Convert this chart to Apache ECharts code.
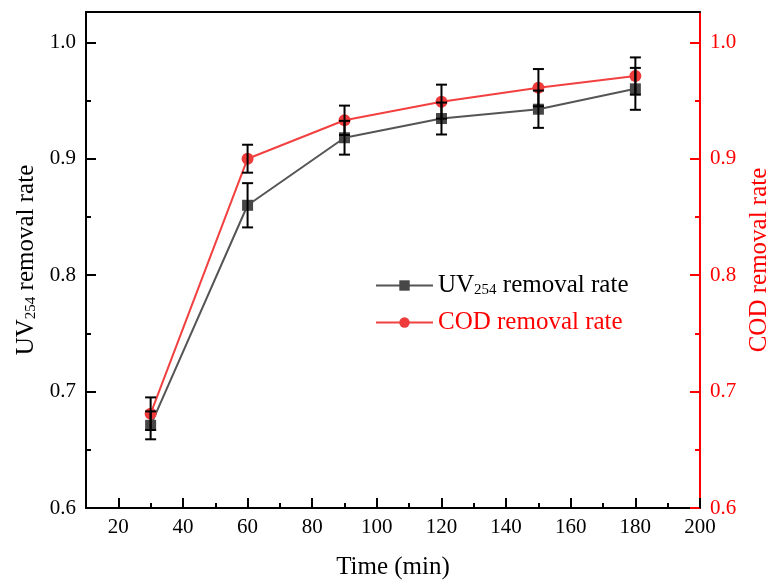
<!DOCTYPE html>
<html><head><meta charset="utf-8">
<script src="https://cdn.jsdelivr.net/npm/echarts@6/dist/echarts.min.js"></script>
<style>html,body{margin:0;padding:0;background:#fff;overflow:hidden}#c{width:771px;height:580px}</style>
</head><body><div id="c"></div>
<script>
const timeMin = [30, 60, 90, 120, 150, 180];
const uvRate = [0.671, 0.860, 0.918, 0.9345, 0.9425, 0.960];
const uvErr = [0.012, 0.019, 0.0145, 0.0137, 0.016, 0.018];
const codRate = [0.681, 0.900, 0.933, 0.949, 0.961, 0.971];
const codErr = [0.014, 0.012, 0.0126, 0.0146, 0.016, 0.016];
const xMajorTicks = [20, 40, 60, 80, 100, 120, 140, 160, 180, 200];
const xMinorTicks = [30, 50, 70, 90, 110, 130, 150, 170, 190];
const yMajorTicks = [0.6, 0.7, 0.8, 0.9, 1.0];
const yMinorTicks = [0.65, 0.75, 0.85, 0.95];

const FONT = '"Liberation Serif", "Times New Roman", serif';
const RED = '#ff0000';
const Y_MIN = 0.6, Y_MAX = 1.026;

function errRender(params, api) {
  const x = api.value(0), y = api.value(1), e = api.value(2);
  const t = api.coord([x, y + e]);
  const b = api.coord([x, y - e]);
  const hw = 5.5;
  const st = {stroke: '#000', lineWidth: 2};
  return {type: 'group', children: [
    {type: 'line', shape: {x1: t[0], y1: t[1], x2: b[0], y2: b[1]}, style: st},
    {type: 'line', shape: {x1: t[0] - hw, y1: t[1], x2: t[0] + hw, y2: t[1]}, style: st},
    {type: 'line', shape: {x1: b[0] - hw, y1: b[1], x2: b[0] + hw, y2: b[1]}, style: st}
  ]};
}

function yAxisMain(pos, color, name, gap) {
  return {
    type: 'value', position: pos, min: Y_MIN, max: Y_MAX,
    name: name, nameLocation: 'middle', nameGap: gap,
    nameTextStyle: {fontFamily: FONT, fontSize: 25, color: color,
      rich: {a: {fontFamily: FONT, fontSize: 25, color: color},
             s: {fontFamily: FONT, fontSize: 15, color: color, verticalAlign: 'bottom', lineHeight: 8}}},
    axisLine: {show: true, lineStyle: {color: color, width: 2}},
    axisTick: {show: true, inside: true, length: 10, lineStyle: {color: color, width: 2}, customValues: yMajorTicks},
    axisLabel: {show: true, margin: 10, color: color, fontFamily: FONT, fontSize: 21,
      customValues: yMajorTicks, formatter: v => v.toFixed(1)},
    splitLine: {show: false}
  };
}
function yAxisMinor(pos, color) {
  return {
    type: 'value', position: pos, min: Y_MIN, max: Y_MAX,
    axisLine: {show: false},
    axisTick: {show: true, inside: true, length: 5, lineStyle: {color: color, width: 2}, customValues: yMinorTicks},
    axisLabel: {show: false}, splitLine: {show: false}
  };
}

const chart = echarts.init(document.getElementById('c'), null, {renderer: 'canvas'});
chart.setOption({
  animation: false,
  backgroundColor: '#fff',
  grid: {left: 86, right: 71, top: 12, bottom: 72, containLabel: false, outerBoundsMode: 'none'},
  legend: {
    orient: 'vertical', left: 370, top: 268, itemWidth: 57, itemHeight: 13, itemGap: 12,
    textStyle: {fontFamily: FONT, fontSize: 25,
      rich: {a: {fontFamily: FONT, fontSize: 25, color: '#000'},
             s: {fontFamily: FONT, fontSize: 15, color: '#000', verticalAlign: 'bottom', lineHeight: 6},
             r: {fontFamily: FONT, fontSize: 25, color: RED}}},
    formatter: n => n === 'UV' ? '{a|UV}{s|254}{a| removal rate}' : '{r|COD removal rate}',
    data: ['UV', 'COD']
  },
  xAxis: [
    {type: 'value', position: 'bottom', min: 10, max: 200,
     name: 'Time (min)', nameLocation: 'middle', nameGap: 47,
     nameTextStyle: {fontFamily: FONT, fontSize: 25, color: '#000'},
     axisLine: {show: true, lineStyle: {color: '#000', width: 2}},
     axisTick: {show: true, inside: true, length: 10, lineStyle: {color: '#000', width: 2}, customValues: xMajorTicks},
     axisLabel: {show: true, margin: 9, color: '#000', fontFamily: FONT, fontSize: 21, customValues: xMajorTicks},
     splitLine: {show: false}},
    {type: 'value', position: 'bottom', min: 10, max: 200,
     axisLine: {show: false},
     axisTick: {show: true, inside: true, length: 5, lineStyle: {color: '#000', width: 2}, customValues: xMinorTicks},
     axisLabel: {show: false}, splitLine: {show: false}},
    {type: 'value', position: 'top', min: 10, max: 200,
     axisLine: {show: true, lineStyle: {color: '#000', width: 2}},
     axisTick: {show: false}, axisLabel: {show: false}, splitLine: {show: false}}
  ],
  yAxis: [
    yAxisMain('left', '#000', '{a|UV}{s|254}{a| removal rate}', 44),
    yAxisMain('right', RED, '{a|COD removal rate}', 42),
    yAxisMinor('left', '#000'),
    yAxisMinor('right', RED)
  ],
  series: [
    {name: 'UV', type: 'line', xAxisIndex: 0, yAxisIndex: 0,
     data: timeMin.map((t, i) => [t, uvRate[i]]),
     symbol: 'rect', symbolSize: 11, z: 2,
     lineStyle: {color: '#555555', width: 2},
     itemStyle: {color: '#474747'}},
    {name: 'COD', type: 'line', xAxisIndex: 0, yAxisIndex: 1,
     data: timeMin.map((t, i) => [t, codRate[i]]),
     symbol: 'circle', symbolSize: 12, z: 3,
     lineStyle: {color: '#f24040', width: 2},
     itemStyle: {color: '#ee3b3b'}},
    {name: 'UV err', type: 'custom', xAxisIndex: 0, yAxisIndex: 0, z: 4,
     renderItem: errRender, data: timeMin.map((t, i) => [t, uvRate[i], uvErr[i]])},
    {name: 'COD err', type: 'custom', xAxisIndex: 0, yAxisIndex: 1, z: 4,
     renderItem: errRender, data: timeMin.map((t, i) => [t, codRate[i], codErr[i]])}
  ]
});
</script></body></html>
